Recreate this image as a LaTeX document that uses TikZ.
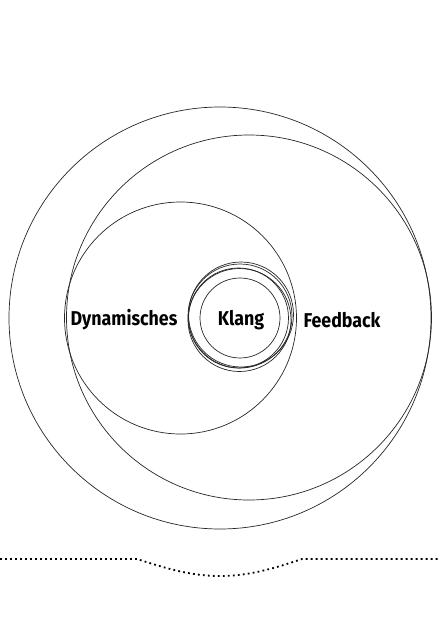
\documentclass[tikz,border=0pt]{standalone}
\usepackage{fontspec}
\setmainfont{Fira Sans}
\newcommand{\narrowtxt}[1]{\scalebox{0.89}[1]{#1}}
\begin{document}
\begin{tikzpicture}[x=1pt,y=-1pt,
  ring/.style={draw=black!85,line width=0.7pt},
  lbl/.style={font=\bfseries\fontsize{20}{23}\selectfont,inner sep=0pt},
  dotline/.style={line width=1.8pt,dash pattern=on 1.8pt off 3.2pt}]
\useasboundingbox (0,0) rectangle (439,637);
% large circles
\draw[ring] (220,318) circle[radius=211];
\draw[ring] (249,317.5) circle[radius=182.5];
\draw[ring] (180.5,318) circle[radius=116];
% small circles
\draw[ring] (240,316) circle[radius=52];
\draw[ring] (241,314.5) circle[radius=52.5];
\draw[ring] (239.5,320) circle[radius=51.5];
\draw[ring] (238.5,318) circle[radius=50];
\draw[ring] (240,318) circle[radius=40];
% labels
\node[lbl] (dyn) at (124,320) {\narrowtxt{Dynamisches}};
\node[lbl] (kl) at (241,320) {\narrowtxt{Klang}};
\node[lbl] (fb) at (342,320) {\narrowtxt{Feedback}};
% dotted line
\coordinate (l0) at (0,559);
\coordinate (l1) at (137,559);
\coordinate (l2) at (220,576);
\coordinate (l3) at (302,559);
\coordinate (l4) at (439,559);
\draw[dotline] (l0) -- (l1) .. controls (165,568) and (190,576) .. (l2)
  .. controls (250,576) and (275,568) .. (l3) -- (l4);
\end{tikzpicture}
\end{document}
